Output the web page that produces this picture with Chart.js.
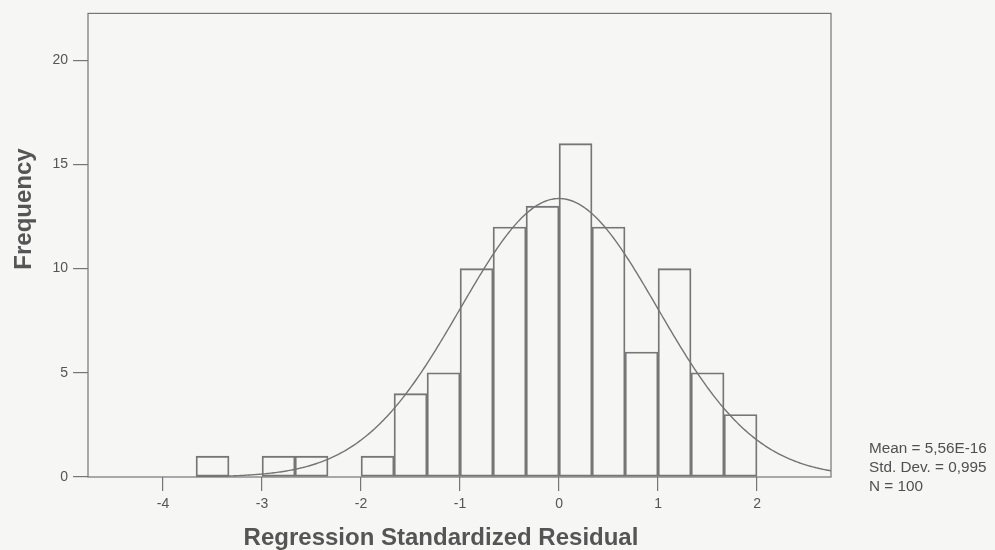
<!DOCTYPE html>
<html>
<head>
<meta charset="utf-8">
<title>Regression Standardized Residual histogram</title>
<script src="https://cdn.jsdelivr.net/npm/chart.js@4.4.1/dist/chart.umd.min.js"></script>
<style>
  html, body { margin: 0; padding: 0; background: #f6f6f4; }
  #wrap { width: 995px; height: 550px; }
</style>
</head>
<body>
<div id="wrap"><canvas id="hist" width="995" height="550"></canvas></div>
<script>
// Histogram bins: left edge of each bin (width 1/3) and its count
const binWidth = 1 / 3;
const binStarts = [-11/3, -3, -8/3, -2, -5/3, -4/3, -1, -2/3, -1/3, 0, 1/3, 2/3, 1, 4/3, 5/3];
const counts    = [1, 1, 1, 1, 4, 5, 10, 12, 13, 16, 12, 6, 10, 5, 3];

// Summary statistics shown beside the plot
const MEAN = 5.56e-16;
const STD_DEV = 0.995;
const N = 100;
const statLines = ['Mean = 5,56E-16', 'Std. Dev. = 0,995', 'N = 100'];

// Axis ticks
const xTicks = [-4, -3, -2, -1, 0, 1, 2];
const yTicks = [0, 5, 10, 15, 20];
const X_MIN = -4.758, X_MAX = 2.747, Y_MAX = 22.25;

const FONT = '"Liberation Sans", Arial, Helvetica, sans-serif';
const INK = '#767676';

const barPoints = binStarts.map((s, i) => ({ x: s + binWidth / 2, y: counts[i] }));

// Normal density scaled to counts per bin, from the stated mean, SD and N
const curvePoints = [];
const curveStart = binStarts[0];
const steps = 400;
for (let i = 0; i <= steps; i++) {
  const x = curveStart + (X_MAX - curveStart) * i / steps;
  const z = (x - MEAN) / STD_DEV;
  const y = N * binWidth / (STD_DEV * Math.sqrt(2 * Math.PI)) * Math.exp(-0.5 * z * z);
  curvePoints.push({ x, y });
}

const framePlugin = {
  id: 'frameAndTitles',
  afterDraw(chart) {
    const { ctx, chartArea: a } = chart;
    ctx.save();
    ctx.strokeStyle = INK;
    ctx.lineWidth = 1.2;
    ctx.strokeRect(a.left, a.top, a.right - a.left, a.bottom - a.top);

    // axis titles
    ctx.fillStyle = '#555555';
    ctx.font = 'bold 24px ' + FONT;
    ctx.textAlign = 'center';
    ctx.textBaseline = 'alphabetic';
    ctx.fillText('Regression Standardized Residual', 441, 545);

    ctx.save();
    ctx.translate(31, 209);
    ctx.rotate(-Math.PI / 2);
    ctx.fillText('Frequency', 0, 0);
    ctx.restore();

    // statistics block
    ctx.font = '15.3px ' + FONT;
    ctx.textAlign = 'left';
    ctx.fillStyle = '#505050';
    statLines.forEach((t, i) => ctx.fillText(t, 869, 453 + i * 19));
    ctx.restore();
  }
};

new Chart(document.getElementById('hist'), {
  type: 'bar',
  data: {
    datasets: [
      {
        type: 'line',
        data: curvePoints,
        borderColor: '#747474',
        borderWidth: 1.4,
        pointRadius: 0,
        fill: false,
        tension: 0,
        order: 0
      },
      {
        type: 'bar',
        data: barPoints,
        backgroundColor: 'rgba(0,0,0,0)',
        borderColor: INK,
        borderWidth: 1.2,
        borderSkipped: false,
        barPercentage: 1,
        categoryPercentage: 1,
        order: 1
      }
    ]
  },
  options: {
    responsive: false,
    animation: false,
    layout: { padding: { top: 12, right: 164, left: 0, bottom: 0 } },
    plugins: { legend: { display: false }, tooltip: { enabled: false } },
    scales: {
      x: {
        type: 'linear',
        min: X_MIN,
        max: X_MAX,
        offset: false,
        afterBuildTicks: s => { s.ticks = xTicks.map(v => ({ value: v })); },
        afterFit: s => { s.height = 73; },
        border: { display: false },
        grid: { offset: false, drawOnChartArea: false, drawTicks: true, tickLength: 14, color: INK, lineWidth: 1.2 },
        ticks: {
          color: '#555555',
          font: { family: FONT, size: 14 },
          padding: 5,
          maxRotation: 0,
          callback: v => String(v)
        }
      },
      y: {
        type: 'linear',
        min: 0,
        max: Y_MAX,
        afterBuildTicks: s => { s.ticks = yTicks.map(v => ({ value: v })); },
        afterFit: s => { s.width = 88; },
        border: { display: false },
        grid: { drawOnChartArea: false, drawTicks: true, tickLength: 15, color: INK, lineWidth: 1.2 },
        ticks: {
          color: '#555555',
          font: { family: FONT, size: 14 },
          padding: 5,
          callback: v => String(v)
        }
      }
    }
  },
  plugins: [framePlugin]
});
</script>
</body>
</html>
